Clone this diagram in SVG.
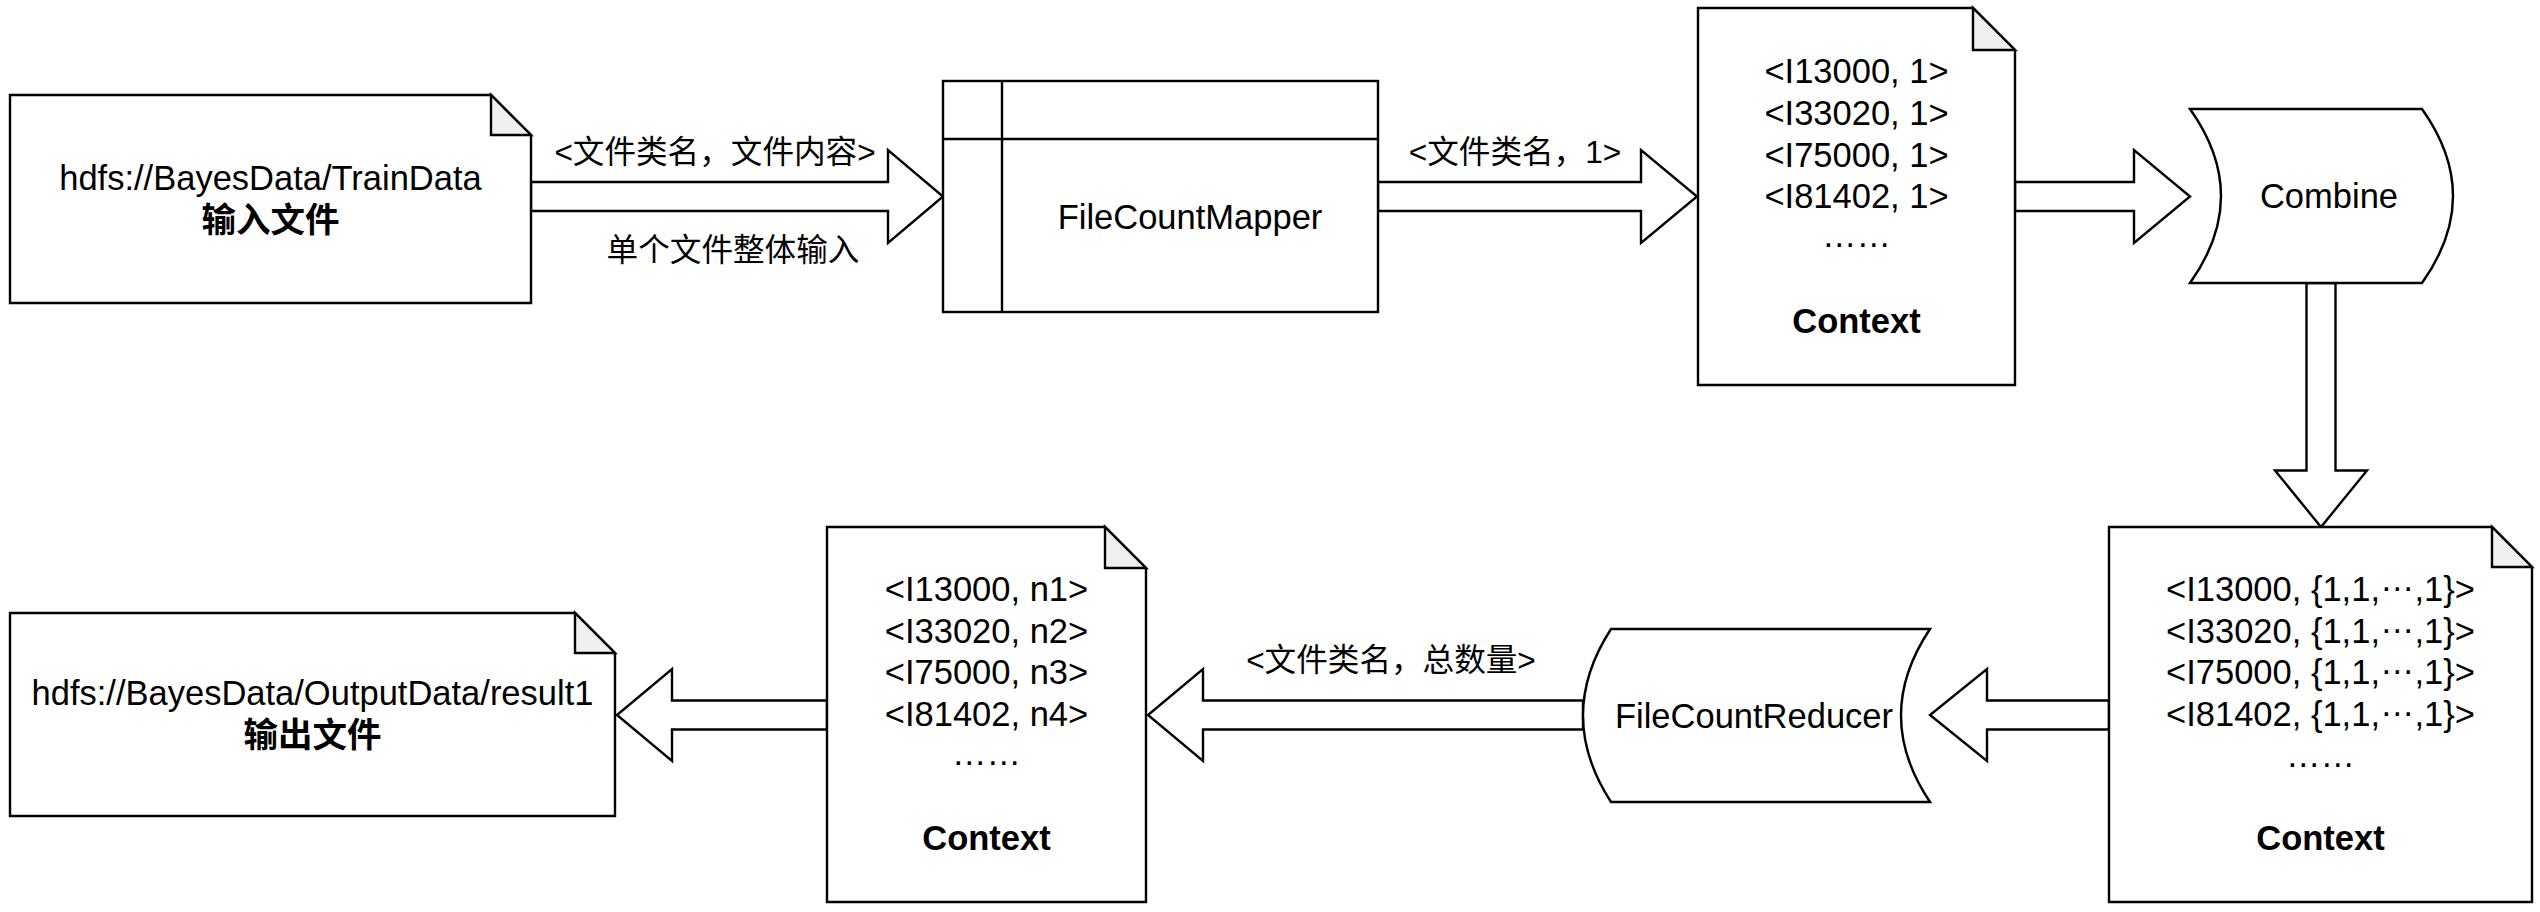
<svg xmlns="http://www.w3.org/2000/svg" width="2540" height="912" viewBox="0 0 2540 912">
<style>
.shape{fill:#ffffff;stroke:#000000;stroke-width:2.4;stroke-linejoin:miter}
.fold{fill:#f0f0f0;stroke:#000000;stroke-width:2.4;stroke-linejoin:miter}
.line{fill:none;stroke:#000000;stroke-width:2.4}
.arrow{fill:#ffffff;stroke:#000000;stroke-width:2.4;stroke-linejoin:miter}
.t{font-family:"Liberation Sans","Noto Sans CJK SC",sans-serif;font-size:34.5px;text-anchor:middle;fill:#000000}
.b{font-weight:bold}
.lbl{font-family:"Liberation Sans","Noto Sans CJK SC",sans-serif;font-size:31.6px;text-anchor:middle;fill:#000000}
</style>
<rect x="0" y="0" width="2540" height="912" fill="#ffffff"/>
<g id="connectors">
<polygon class="arrow" points="531,182 888,182 888,150 943,196.5 888,243 888,211 531,211"/>
<polygon class="arrow" points="1378,182 1641,182 1641,150 1697,196.5 1641,243 1641,211 1378,211"/>
<polygon class="arrow" points="2015,182 2134,182 2134,150 2190,196.5 2134,243 2134,211 2015,211"/>
<polygon class="arrow" points="2306.5,283 2335.5,283 2335.5,470.5 2367,470.5 2321,527 2275,470.5 2306.5,470.5"/>
<polygon class="arrow" points="2109,700.5 1987,700.5 1987,669 1930,715 1987,761 1987,729.5 2109,729.5"/>
<polygon class="arrow" points="1583,700.5 1203,700.5 1203,669 1148,715 1203,761 1203,729.5 1583,729.5"/>
<polygon class="arrow" points="827,700.5 672,700.5 672,669 617,715 672,761 672,729.5 827,729.5"/>
<text class="lbl" x="715" y="163">&lt;文件类名，文件内容&gt;</text>
<text class="lbl" x="733" y="261">单个文件整体输入</text>
<text class="lbl" x="1515" y="163">&lt;文件类名，1&gt;</text>
<text class="lbl" x="1391" y="671">&lt;文件类名，总数量&gt;</text>
</g>
<g id="node-input">
<path class="shape" d="M10,95 H491 L531,135 V303 H10 Z"/>
<polygon class="fold" points="491,95 491,135 531,135"/>
<text class="t" x="270.5" y="190">hdfs://BayesData/TrainData</text>
<text class="t b" x="270.5" y="232">输入文件</text>
</g>
<g id="node-mapper">
<rect class="shape" x="943" y="81" width="435" height="231"/>
<line class="line" x1="943" y1="139" x2="1378" y2="139"/>
<line class="line" x1="1002" y1="81" x2="1002" y2="312"/>
<text class="t" x="1190" y="229">FileCountMapper</text>
</g>
<g id="node-context1">
<path class="shape" d="M1698,8 H1973 L2015,50 V385 H1698 Z"/>
<polygon class="fold" points="1973,8 1973,50 2015,50"/>
<text class="t" x="1856.5" y="83">&lt;I13000, 1&gt;</text>
<text class="t" x="1856.5" y="125">&lt;I33020, 1&gt;</text>
<text class="t" x="1856.5" y="167">&lt;I75000, 1&gt;</text>
<text class="t" x="1856.5" y="208">&lt;I81402, 1&gt;</text>
<text class="t" x="1856.5" y="247">……</text>
<text class="t b" x="1856.5" y="333">Context</text>
</g>
<g id="node-combine">
<path class="shape" d="M2190,109 H2422 Q2484,196 2422,283 H2190 Q2252,196 2190,109 Z"/>
<text class="t" x="2329" y="208">Combine</text>
</g>
<g id="node-context2">
<path class="shape" d="M2109,527 H2492 L2532,567 V902 H2109 Z"/>
<polygon class="fold" points="2492,527 2492,567 2532,567"/>
<text class="t" x="2320.5" y="601">&lt;I13000, {1,1,<tspan dy="-10">…</tspan><tspan dy="10">,1}&gt;</tspan></text>
<text class="t" x="2320.5" y="643">&lt;I33020, {1,1,<tspan dy="-10">…</tspan><tspan dy="10">,1}&gt;</tspan></text>
<text class="t" x="2320.5" y="684">&lt;I75000, {1,1,<tspan dy="-10">…</tspan><tspan dy="10">,1}&gt;</tspan></text>
<text class="t" x="2320.5" y="726">&lt;I81402, {1,1,<tspan dy="-10">…</tspan><tspan dy="10">,1}&gt;</tspan></text>
<text class="t" x="2320.5" y="767">……</text>
<text class="t b" x="2320.5" y="850">Context</text>
</g>
<g id="node-reducer">
<path class="shape" d="M1611,629 H1930 Q1872,715.5 1930,802 H1611 Q1555,715.5 1611,629 Z"/>
<text class="t" x="1754" y="728">FileCountReducer</text>
</g>
<g id="node-context3">
<path class="shape" d="M827,527 H1105 L1146,568 V902 H827 Z"/>
<polygon class="fold" points="1105,527 1105,568 1146,568"/>
<text class="t" x="986.5" y="601">&lt;I13000, n1&gt;</text>
<text class="t" x="986.5" y="643">&lt;I33020, n2&gt;</text>
<text class="t" x="986.5" y="684">&lt;I75000, n3&gt;</text>
<text class="t" x="986.5" y="726">&lt;I81402, n4&gt;</text>
<text class="t" x="986.5" y="765">……</text>
<text class="t b" x="986.5" y="850">Context</text>
</g>
<g id="node-output">
<path class="shape" d="M10,613 H575 L615,653 V816 H10 Z"/>
<polygon class="fold" points="575,613 575,653 615,653"/>
<text class="t" x="312.5" y="705">hdfs://BayesData/OutputData/result1</text>
<text class="t b" x="312.5" y="747">输出文件</text>
</g>
</svg>
